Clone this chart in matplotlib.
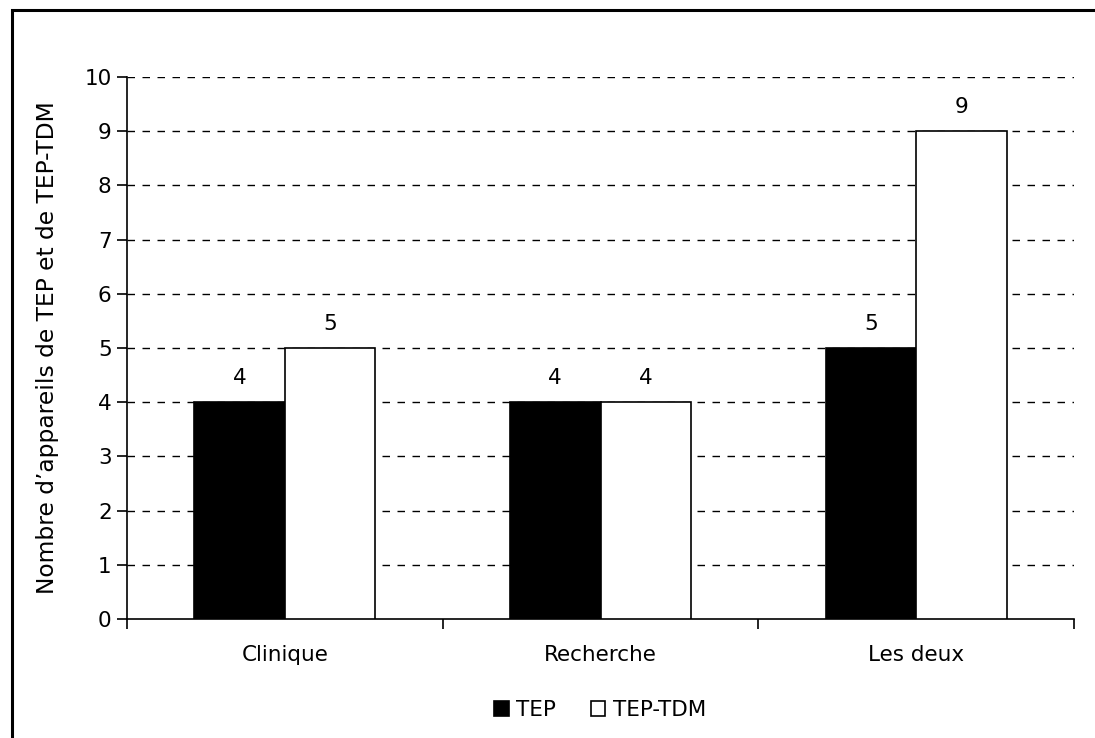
import matplotlib
matplotlib.use("Agg")
import matplotlib.pyplot as plt
from matplotlib.patches import Rectangle
import numpy as np

plt.rcParams['font.family'] = ['DejaVu Sans']

categories = ["Clinique", "Recherche", "Les deux"]
tep = [4, 4, 5]
tep_tdm = [5, 4, 9]
series_names = ["TEP", "TEP-TDM"]
yticks = list(range(0, 11))

FS = 15.5
W, H = 1095, 738
fig = plt.figure(figsize=(W / 100, H / 100), dpi=100)
ax = fig.add_axes([127 / W, 1 - 619 / H, (1074 - 127) / W, (619 - 77) / H])

x = np.arange(len(categories))
bw = 0.287
b1 = ax.bar(x - bw / 2, tep, bw, color='black', edgecolor='black', linewidth=1.2,
            label=series_names[0], zorder=3)
b2 = ax.bar(x + bw / 2, tep_tdm, bw, color='white', edgecolor='black', linewidth=1.2,
            label=series_names[1], zorder=3)

for bars in (b1, b2):
    for r in bars:
        ax.annotate(f"{int(r.get_height())}", (r.get_x() + r.get_width() / 2, r.get_height()),
                    xytext=(0, 10), textcoords='offset points', ha='center', va='bottom',
                    fontsize=FS)

ax.set_xlim(-0.5, len(categories) - 0.5)
ax.set_ylim(0, 10)
ax.set_yticks(yticks)
ax.set_yticklabels([str(v) for v in yticks], fontsize=FS)
ax.set_xticks(x)
ax.set_xticklabels(categories, fontsize=FS)
ax.tick_params(axis='x', length=0, pad=19)
ax.set_xticks(np.arange(-0.5, len(categories)), minor=True)
ax.tick_params(axis='x', which='minor', length=7, width=1.2, direction='out')
ax.tick_params(axis='y', length=7, width=1.2, direction='out', pad=4)

for v in yticks[1:]:
    ax.axhline(v, color='black', linestyle=(0, (5.4, 5.4)), linewidth=1.0, zorder=1)

for s in ['top', 'right']:
    ax.spines[s].set_visible(False)
for s in ['left', 'bottom']:
    ax.spines[s].set_linewidth(1.2)

ax.set_ylabel("Nombre d’appareils de TEP et de TEP-TDM", fontsize=16.8, labelpad=18)

leg = fig.legend(handles=[b1, b2], labels=series_names, loc='center',
                 bbox_to_anchor=(600 / W, 1 - 710 / H), ncol=2, frameon=False,
                 fontsize=FS, handlelength=0.68, handleheight=0.68, handletextpad=0.35,
                 columnspacing=1.6)

fig.patches.append(Rectangle((12 / W, -0.1), 1.2, 1.1 - 10 / H,
                             transform=fig.transFigure, fill=False,
                             edgecolor='black', linewidth=2.2, zorder=10))

fig.savefig("out.png", dpi=100)
